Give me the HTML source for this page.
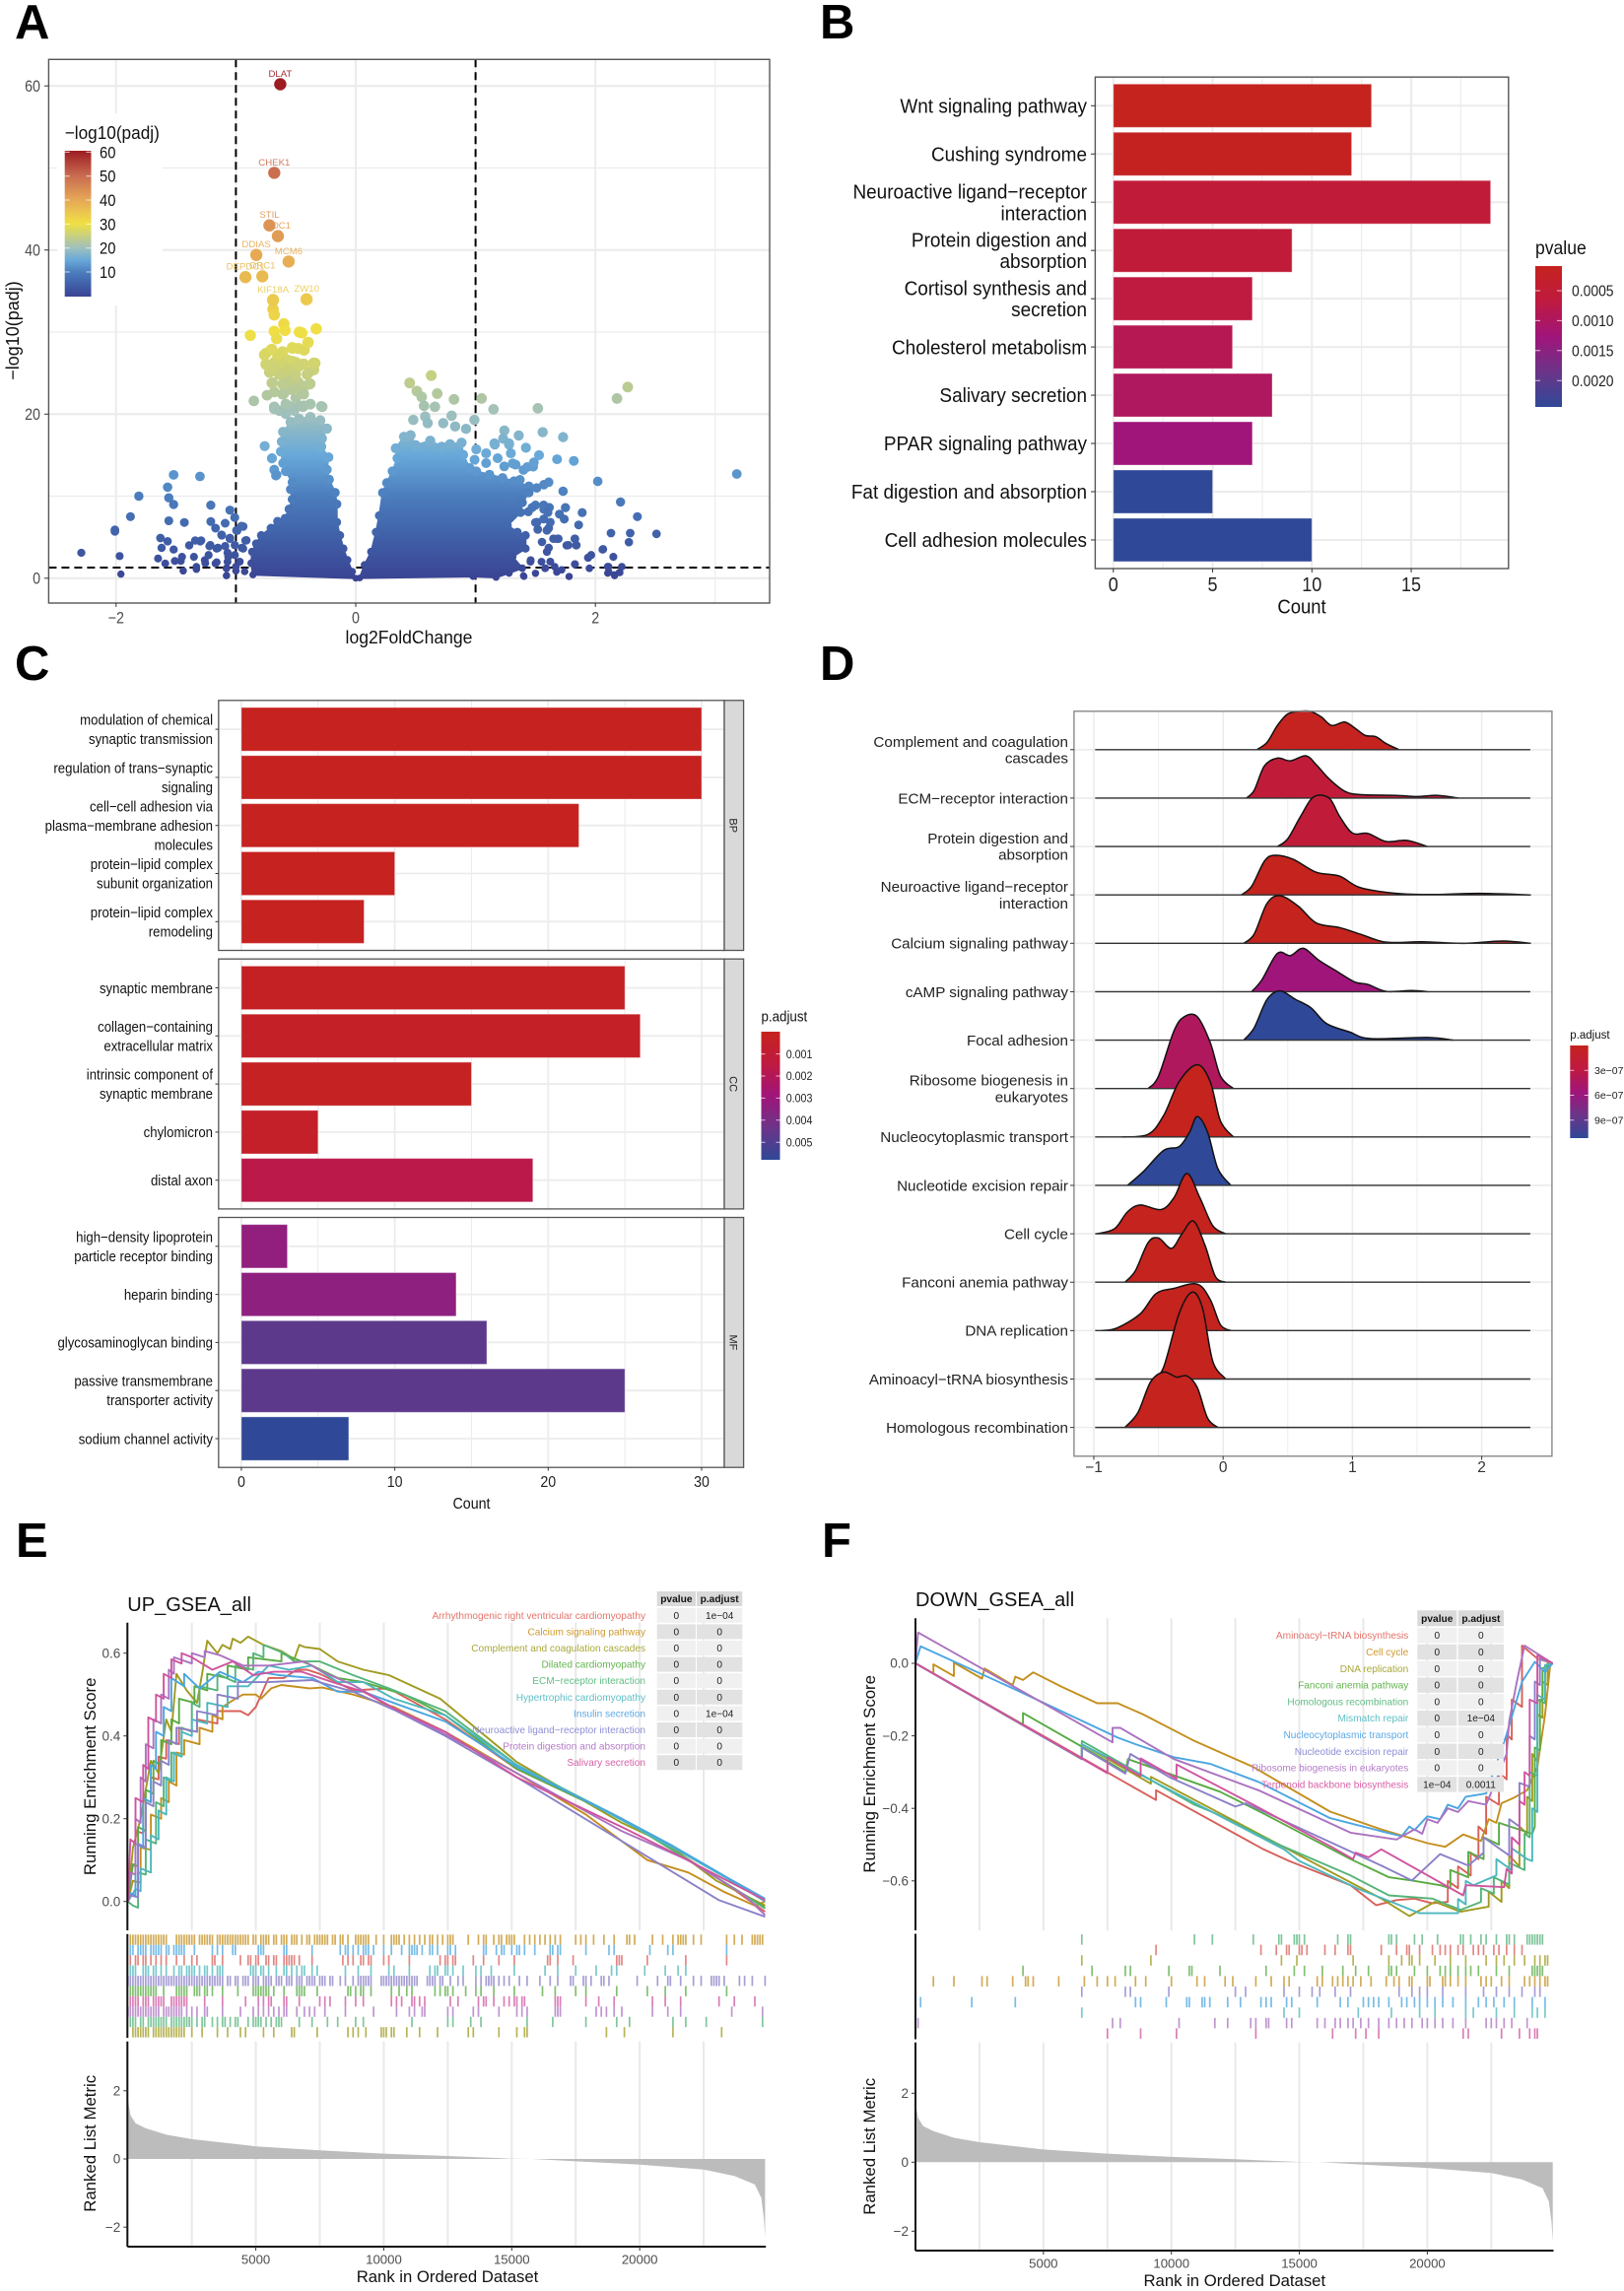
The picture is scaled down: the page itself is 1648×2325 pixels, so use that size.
<!DOCTYPE html>
<html lang="en">
<head>
<meta charset="utf-8">
<title>Multi-panel transcriptomics figure</title>
<style>
html,body{margin:0;padding:0;background:#fff}
svg{display:block;font-family:"Liberation Sans",Arial,sans-serif}
</style>
</head>
<body>
<svg id="figure" xmlns="http://www.w3.org/2000/svg" width="1648" height="2325" viewBox="0 0 1648 2325">
<defs id="defs"></defs>
<rect x="0" y="0" width="1648" height="2325" fill="#fff"/>

<g>
  <text x="15" y="39" font-size="49" font-weight="bold" fill="#000">A</text>
  <g id="a-grid"></g>
  <g id="a-marks"></g>
  <rect x="49.4" y="60.3" width="731.6" height="551.7" fill="none" stroke="#555" stroke-width="1.4"/>
  <g id="a-axes"></g>
  <text transform="translate(415,653) scale(.95,1)" text-anchor="middle" font-size="18.5" fill="#111">log2FoldChange</text>
  <text transform="translate(19,335.5) rotate(-90) scale(1,1)" text-anchor="middle" font-size="18" fill="#111">−log10(padj)</text>
  <rect x="58" y="115" width="107" height="195" fill="#fff"/>
  <text transform="translate(65.7,141) scale(.93,1)" font-size="18.5" fill="#111">−log10(padj)</text>
  <g id="a-legend"></g>
</g>

<g>
  <text x="832" y="39" font-size="49" font-weight="bold" fill="#000">B</text>
  <g id="b-grid"></g>
  <g id="b-marks"></g>
  <rect x="1111.4" y="78.2" width="419.4" height="498.8" fill="none" stroke="#555" stroke-width="1.4"/>
  <g id="b-axes"></g>
  <text transform="translate(1321,622.5) scale(.9,1)" text-anchor="middle" font-size="20.5" fill="#111">Count</text>
  <text transform="translate(1558,258) scale(.9,1)" font-size="19.5" fill="#111">pvalue</text>
  <g id="b-legend"></g>
</g>

<g>
  <text x="15" y="690" font-size="49" font-weight="bold" fill="#000">C</text>
  <g id="c-grid"></g>
  <g id="c-marks"></g>
  <g id="c-axes"></g>
  <text transform="translate(478.5,1531) scale(.89,1)" text-anchor="middle" font-size="16" fill="#111">Count</text>
  <text transform="translate(772.5,1036.5) scale(.89,1)" font-size="15" fill="#111">p.adjust</text>
  <g id="c-legend"></g>
</g>

<g>
  <text x="832" y="690" font-size="49" font-weight="bold" fill="#000">D</text>
  <g id="d-grid"></g>
  <g id="d-marks"></g>
  <rect x="1089.9" y="721.8" width="485" height="756" fill="none" stroke="#888" stroke-width="1.4"/>
  <g id="d-axes"></g>
  <text x="1593.3" y="1054" font-size="11.5" fill="#111">p.adjust</text>
  <g id="d-legend"></g>
</g>

<g>
  <text x="16" y="1580" font-size="49" font-weight="bold" fill="#000">E</text>
  <text x="129.3" y="1635" font-size="20" fill="#111">UP_GSEA_all</text>
  <g id="e-grid"></g>
  <g id="e-lines"></g>
  <g id="e-rug"></g>
  <g id="e-metric"></g>
  <g id="e-axes"></g>
  <g id="e-table"></g>
  <text transform="translate(97,1802.8) rotate(-90)" text-anchor="middle" font-size="16.8" fill="#111">Running Enrichment Score</text>
  <text transform="translate(97,2175.3) rotate(-90)" text-anchor="middle" font-size="16.8" fill="#111">Ranked List Metric</text>
  <text x="454" y="2316" text-anchor="middle" font-size="16.7" fill="#111">Rank in Ordered Dataset</text>
</g>

<g>
  <text x="834" y="1580" font-size="49" font-weight="bold" fill="#000">F</text>
  <text x="929" y="1630" font-size="20" fill="#111">DOWN_GSEA_all</text>
  <g id="f-grid"></g>
  <g id="f-lines"></g>
  <g id="f-rug"></g>
  <g id="f-metric"></g>
  <g id="f-axes"></g>
  <g id="f-table"></g>
  <text transform="translate(888,1800.3) rotate(-90)" text-anchor="middle" font-size="16.8" fill="#111">Running Enrichment Score</text>
  <text transform="translate(888,2178.3) rotate(-90)" text-anchor="middle" font-size="16.8" fill="#111">Ranked List Metric</text>
  <text x="1252.8" y="2320" text-anchor="middle" font-size="16.7" fill="#111">Rank in Ordered Dataset</text>
</g>
</svg>

<script>
/* ---------- Panel A data (log2FoldChange, -log10 padj) ---------- */
const labelledGenes = ['DLAT','CHEK1','STIL','CDC1','DDIAS','MCM6','DEPDC1','ORC1','KIF18A','ZW10'];
const labelledFC = [-.63,-.68,-.72,-.65,-.83,-.56,-.92,-.78,-.69,-.41];
const labelledP = [60.2,49.4,43,41.7,39.4,38.6,36.7,36.8,33.9,34];
const volcanoUpperDown = [[-.69,32.8],[-.68,32.1],[-.88,29.6],[-.68,30.1],[-.66,29.2],[-.6,31],[-.59,30.2],[-.47,30],[-.45,29.9],[-.33,30.4],[-.4,28.7],[-.75,27.4],[-.7,27.9],[-.61,27.6],[-.53,28.1],[-.48,28],[-.43,27.8],[-.75,26.1],[-.68,26.3],[-.57,26.6],[-.5,26.3],[-.44,26.1],[-.34,26.2],[-.35,25.4],[-.72,25.1],[-.64,25.1],[-.53,25.3],[-.39,25.1],[-.7,23.8],[-.59,24],[-.48,23.9],[-.38,23.7],[-.74,22.3],[-.68,22.7],[-.55,23],[-.44,22.7],[-.85,21.6],[-.68,20.9],[-.61,20.4],[-.54,20.9],[-.44,20.9],[-.38,21.2],[-.28,20.9],[-.62,26.5],[-.58,25],[-.52,24.5],[-.6,22.5],[-.5,22],[-.47,21],[-.56,21],[-.76,16.1],[-.7,14.6],[-.68,13.2],[-.66,12.6],[-.68,20.63],[-.639,20.43],[-.584,20.03],[-.515,20.43],[-.433,21.03],[-.378,21.23],[-.288,20.95],[-.584,21.23],[-.611,22.43],[-.502,23.03],[-.392,23.63],[-.447,23.43],[-.556,24.03],[-.694,23.83],[-.639,24.83],[-.502,24.83],[-.406,24.83],[-.351,26.23],[-.433,26.11],[-.529,26.43],[-.625,26.23],[-.748,26.03],[-.652,27.23],[-.529,28.03],[-.707,27.83],[-.762,27.23],[-.433,27.83],[-.397,28.75],[-.68,25.63],[-.57,25.43],[-.474,25.83],[-.611,23.63],[-.433,22.43],[-.699,14.63],[-.68,13.23],[-.666,12.5]];
const volcanoUp = [[.63,24.7],[.45,23.8],[.51,22.8],[.55,22.1],[.68,22.5],[.82,21.8],[1.05,21.9],[.57,21],[.66,20.9],[1.15,20.6],[1.52,20.7],[2.18,21.9],[2.27,23.3],[.48,19.3],[.58,19.7],[.6,18.9],[.73,18.9],[.8,19.8],[.83,18.5],[.92,18.2],[.99,19.3],[1.24,18],[1.36,17.4],[1.56,17.8],[1.73,17.2],[1.23,17],[1.16,16.3],[1.28,16.3],[1.42,15.9],[1.53,15],[1.68,14.5],[1.82,14.3],[2.02,11.8],[3.18,12.7],[1.73,10.6],[1.61,11.7],[1.57,11.4],[1.51,11],[2.21,9.3],[2.35,7.5],[1.86,6.5],[1.89,8],[1.75,8.6],[1.7,7.8],[1.74,7.2],[2.13,5.5],[2.29,5.5],[2.51,5.4],[2.28,4.4],[2.06,3.5],[2.15,2.6],[1.94,2.5],[1.83,1.7],[1.95,1.2],[2.22,1.4],[2.11,1.4],[2.11,.8],[2.2,.7],[2.16,.3],[1.78,.2],[1.68,.8],[1.58,1.2],[1.4,.3],[1.5,.6],[1.66,1.4],[1.55,2],[1.46,2.2],[1.61,3.7],[1.83,4.8],[1.76,4],[1.84,4],[1.68,4.8],[1.61,6.1],[1.5,6.8],[1.57,8.4],[1.44,8.1],[1.5,8.9],[1.4,13.2],[1.48,13.6],[1.31,14],[1.44,10.7],[1.37,12]];
const volcanoRightExtra = [[1.006,15.71],[1.088,15.23],[1.157,16.43],[1.28,16.43],[1.294,15.23],[1.184,14.63],[1.239,13.63],[1.335,13.83],[1.431,13.55],[1.486,14.11],[.992,14.43],[1.088,14.03],[1.472,8.62],[1.568,8.9],[1.615,8.62],[1.604,8.02],[1.513,6.82],[1.568,7.22],[1.623,6.82],[1.519,5.94],[1.595,5.82],[1.691,4.82],[1.65,4.82],[1.554,4.42],[1.595,3.22],[1.623,2.02],[1.458,2.02],[1.582,1.22],[1.678,.74],[1.719,1.02],[1.828,1.7],[1.774,4.02],[1.828,4.82],[1.842,4.02],[1.938,2.5],[1.965,2.82],[2.064,3.54],[2.103,1.42],[2.103,.62],[2.157,.42],[2.204,.7],[1.782,.22],[1.404,.22]];
const volcanoLeftTail = [[-1.52,12.6],[-1.3,12.4],[-1.57,11.1],[-1.81,10],[-1.56,9.8],[-1.52,9],[-1.21,8.9],[-1.05,8.3],[-1.88,7.5],[-1.01,7.4],[-1.56,7],[-1.43,6.8],[-1.21,6.9],[-1.09,6.7],[-.94,6.3],[-2.01,5.9],[-2.01,5.7],[-.99,5.8],[-1.17,6.1],[-1.63,4.9],[-1.12,5.3],[-1.05,4.9],[-1.34,4.6],[-1.29,4.6],[-1.57,4.5],[-.92,4.6],[-2.29,3.1],[-1.62,3.7],[-1.52,3.5],[-1.97,2.7],[-1.39,4],[-1.22,3.9],[-1.15,3.7],[-1.09,3.9],[-1.65,2.4],[-1.45,2.6],[-1.35,2.6],[-1.26,2.2],[-1.07,3.1],[-.95,3.7],[-1.59,1.8],[-1.51,2.1],[-1.46,2.1],[-1.33,1.4],[-1.17,1.8],[-1.07,2],[-1.96,.5],[-1.44,.9],[-1.33,1.1],[-1.08,1.2],[-1.08,.3],[-1,.9],[-1.297,4.5],[-1.214,4.02],[-1.16,3.62],[-1.118,5.22],[-1.05,4.82],[-.995,5.82],[-.954,6.34],[-.913,4.62],[-1.009,4.02],[-.94,3.62],[-1.009,2.82],[-1.064,2.62],[-1.228,2.82],[-1.16,1.94],[-1.256,1.82],[-1.077,1.22],[-1.077,.34],[-.968,2.02],[-.927,.82],[-1,1.42]];
const denseDownEnvelope = [[-.858,.42],[-.872,1.82],[-.864,3.22],[-.831,4.22],[-.789,5.22],[-.707,6.1],[-.652,6.94],[-.589,7.3],[-.556,8.42],[-.529,9.62],[-.543,10.82],[-.529,11.7],[-.584,13.03],[-.606,14.03],[-.625,15.43],[-.617,16.63],[-.606,17.83],[-.543,19.03],[-.474,19.43],[-.378,19.63],[-.296,19.23],[-.241,18.23],[-.282,17.03],[-.288,16.03],[-.228,14.75],[-.241,13.23],[-.222,12.03],[-.173,10.43],[-.159,9.03],[-.159,6.82],[-.132,5.22],[-.104,3.62],[-.069,2.22],[-.03,.82],[0,0]];
const denseUpEnvelope = [[.033,.02],[.074,1.62],[.129,3.22],[.17,5.62],[.197,7.62],[.225,10.42],[.26,11.62],[.307,13.03],[.348,14.63],[.334,15.83],[.403,17.23],[.458,17.43],[.499,16.23],[.622,16.75],[.718,16.03],[.787,16.35],[.883,16.51],[.896,15.03],[.951,13.43],[1.006,13.03],[1.116,12.63],[1.225,12.23],[1.321,11.83],[1.445,11.22],[1.445,10.42],[1.39,9.22],[1.376,8.02],[1.266,6.42],[1.349,5.62],[1.417,5.22],[1.417,3.62],[1.308,2.62],[1.39,1.22],[1.28,.62],[1.171,.1],[.979,.22]];
const volcanoXTicks = [-2,0,2];
const volcanoYTicks = [0,20,40,60];
const foldThresholds = [-1,1];
const padjThreshold = 1.3;
const volcanoLegendTicks = [60,50,40,30,20,10];
const volcanoColorValues = [0,5,10,15,20,25,30,35,40,50,60];
const volcanoColors = ['#3a4494','#4060a8','#4b7dbd','#68a9d9','#9fc0bd','#c8d07e','#efe043','#ebc450','#e5a656','#c86a4f','#9c1c22'];

/* ---------- Panel B data ---------- */
const keggTerms = ['Wnt signaling pathway','Cushing syndrome','Neuroactive ligand−receptor\ninteraction','Protein digestion and\nabsorption','Cortisol synthesis and\nsecretion','Cholesterol metabolism','Salivary secretion','PPAR signaling pathway','Fat digestion and absorption','Cell adhesion molecules'];
const keggCounts = [13,12,19,9,7,6,8,7,5,10];
const keggP = [.00009,.00014,.00055,.00055,.00067,.00085,.00097,.00125,.0024,.0024];
const keggXTicks = [0,5,10,15];
const keggLegendTicks = ['0.0005','0.0010','0.0015','0.0020'];

/* ---------- Panel C data ---------- */
const goFacets = ['BP','CC','MF'];
const goTerms = [
  ['modulation of chemical\nsynaptic transmission','regulation of trans−synaptic\nsignaling','cell−cell adhesion via\nplasma−membrane adhesion\nmolecules','protein−lipid complex\nsubunit organization','protein−lipid complex\nremodeling'],
  ['synaptic membrane','collagen−containing\nextracellular matrix','intrinsic component of\nsynaptic membrane','chylomicron','distal axon'],
  ['high−density lipoprotein\nparticle receptor binding','heparin binding','glycosaminoglycan binding','passive transmembrane\ntransporter activity','sodium channel activity']];
const goCountsBP = [30,30,22,10,8];
const goCountsCC = [25,26,15,5,19];
const goCountsMF = [3,14,16,25,7];
const goPadjBP = [.0001,.0001,.0001,.0001,.0001];
const goPadjCC = [.0003,.0004,.0002,.0005,.0017];
const goPadjMF = [.0033,.0034,.0047,.0047,.0058];
const goXTicks = [0,10,20,30];
const goLegendTicks = ['0.001','0.002','0.003','0.004','0.005'];

/* ---------- Panel D data (log2FC, density) ---------- */
const ridgeTerms = ['Complement and coagulation\ncascades','ECM−receptor interaction','Protein digestion and\nabsorption','Neuroactive ligand−receptor\ninteraction','Calcium signaling pathway','cAMP signaling pathway','Focal adhesion','Ribosome biogenesis in\neukaryotes','Nucleocytoplasmic transport','Nucleotide excision repair','Cell cycle','Fanconi anemia pathway','DNA replication','Aminoacyl−tRNA biosynthesis','Homologous recombination'];
const ridgePadj = [1e-8,2.2e-7,2.2e-7,0,0,5.6e-7,1.12e-6,4.2e-7,0,1.12e-6,0,0,0,0,0];
const ridgeComplement = [[.26,0],[.34,.19],[.42,.63],[.5,.93],[.6,1],[.68,.99],[.76,.85],[.84,.63],[.94,.72],[1.02,.56],[1.1,.37],[1.18,.34],[1.26,.16],[1.36,0]];
const ridgeECM = [[.18,0],[.24,.2],[.32,.84],[.42,1.04],[.52,.97],[.64,1.1],[.72,.87],[.82,.5],[.94,.18],[1.06,.09],[1.34,.07],[1.5,.04],[1.66,.07],[1.82,0]];
const ridgeProtein = [[.42,0],[.5,.2],[.6,.79],[.7,1.29],[.82,1.26],[.9,.79],[1,.35],[1.12,.34],[1.26,.13],[1.42,.16],[1.58,0]];
const ridgeNeuro = [[.14,0],[.22,.22],[.32,.88],[.4,1.03],[.54,.93],[.72,.59],[.9,.49],[1.06,.19],[1.34,.04],[1.62,.01],[1.98,.04],[2.38,0]];
const ridgeCalcium = [[.16,0],[.24,.24],[.34,1.04],[.44,1.24],[.58,.97],[.72,.53],[.9,.41],[1.06,.24],[1.26,.03],[1.54,.04],[1.86,0],[2.16,.06],[2.38,0]];
const ridgeCAMP = [[.22,0],[.3,.31],[.42,1],[.52,.94],[.62,1.13],[.74,.82],[.88,.53],[1.02,.25],[1.12,.19],[1.26,.01],[1.46,.03],[1.58,0]];
const ridgeFocal = [[.16,0],[.24,.32],[.34,1.06],[.44,1.28],[.56,1.06],[.68,.84],[.8,.43],[.98,.21],[1.14,.04],[1.58,.07],[1.78,0]];
const ridgeRibosome = [[-.58,0],[-.5,.32],[-.38,1.5],[-.3,1.87],[-.2,1.87],[-.1,1.2],[-.02,.32],[.08,0]];
const ridgeNucleocyto = [[-.78,0],[-.58,.07],[-.46,.56],[-.34,1.44],[-.2,1.88],[-.1,1.44],[-.02,.41],[.08,0]];
const ridgeNER = [[-.74,0],[-.62,.35],[-.46,.91],[-.34,1.01],[-.26,1.38],[-.2,1.79],[-.12,1.38],[-.04,.43],[.06,0]];
const ridgeCellCycle = [[-.98,0],[-.84,.13],[-.74,.57],[-.64,.75],[-.48,.63],[-.38,.94],[-.28,1.57],[-.18,.94],[-.08,.21],[.02,0]];
const ridgeFanconi = [[-.76,0],[-.68,.29],[-.58,1.03],[-.5,1.15],[-.4,.88],[-.32,1.25],[-.23,1.59],[-.14,.96],[-.06,.15],[.02,0]];
const ridgeDNA = [[-.94,0],[-.82,.07],[-.64,.44],[-.52,.96],[-.38,1.1],[-.2,1.21],[-.1,.81],[-.02,.15],[.06,0]];
const ridgeAminoacyl = [[-.54,0],[-.46,.31],[-.34,1.71],[-.24,2.26],[-.16,1.85],[-.08,.46],[.02,0]];
const ridgeHomologous = [[-.76,0],[-.66,.38],[-.56,1.19],[-.46,1.44],[-.36,1.31],[-.28,1.34],[-.2,1.04],[-.12,.24],[-.04,0]];
const ridgeXTicks = [-1,0,1,2];
const ridgeLegendTicks = ['3e−07','6e−07','9e−07'];

/* ---------- Panel E data (rank in hundreds, enrichment score) ---------- */
const upSets = ['Arrhythmogenic right ventricular cardiomyopathy','Calcium signaling pathway','Complement and coagulation cascades','Dilated cardiomyopathy','ECM−receptor interaction','Hypertrophic cardiomyopathy','Insulin secretion','Neuroactive ligand−receptor interaction','Protein digestion and absorption','Salivary secretion'];
const upPvalue = ['0','0','0','0','0','0','0','0','0','0'];
const upPadjust = ['1e−04','0','0','0','0','0','1e−04','0','0','0'];
const setLabelColors = ['#e5746b','#d09a2b','#a9a83a','#64b450','#62bd85','#5fbfc5','#5ba9e6','#8e8fd6','#b57cc8','#d860a6'];
const setLineColors = ['#d8605a','#c48f1e','#a09a20','#58ab42','#55b47a','#4db7bd','#4aa6e0','#8a80c8','#ab72c0','#cf549e'];
const upArr = [[0,0],[1,.09],[3,.085],[3,.17],[6,.165],[6,.25],[9,.24],[9,.3],[12,.295],[12,.35],[15,.345],[15,.39],[20,.38],[20,.42],[27,.41],[27,.44],[35,.43],[35,.46],[40,.46],[44,.46],[47,.45],[50,.47],[55,.54],[61,.54],[66,.56],[70,.56],[75,.55],[88,.51],[102,.515],[124,.44],[152,.32],[193,.2],[217,.11],[232,.05],[249,-.025]];
const upCalcium = [[0,0],[2,.05],[5,.045],[5,.13],[9,.125],[9,.21],[13,.2],[13,.25],[16,.24],[16,.29],[19,.28],[19,.36],[22,.355],[22,.39],[28,.38],[28,.42],[33,.41],[33,.45],[37,.44],[37,.47],[42,.49],[45,.5],[50,.5],[52,.49],[56,.515],[60,.523],[71,.515],[76,.517],[88,.5],[104,.47],[124,.41],[152,.31],[179,.21],[203,.1],[219,.07],[233,.023],[245,-.01],[249,0]];
const upComplement = [[0,0],[2,.13],[5,.2],[9,.34],[12,.31],[15,.44],[17,.41],[19,.55],[23,.51],[27,.48],[29,.55],[31,.63],[35,.6],[37,.62],[40,.61],[41,.635],[44,.625],[47,.64],[53,.62],[60,.605],[65,.585],[67,.62],[69,.615],[75,.61],[82,.58],[92,.56],[102,.547],[122,.49],[152,.337],[193,.19],[211,.138],[230,.05],[249,-.01]];
const upDilated = [[0,0],[2,.09],[4,.085],[4,.18],[7,.17],[7,.27],[10,.26],[10,.34],[13,.33],[13,.39],[17,.38],[17,.44],[20,.43],[20,.49],[26,.48],[26,.52],[31,.51],[31,.55],[39,.54],[39,.57],[47,.56],[47,.59],[60,.58],[60,.6],[72,.57],[82,.54],[92,.53],[108,.5],[124,.45],[152,.32],[193,.2],[233,.047],[249,-.015]];
const upECM = [[0,0],[2,-.01],[4,-.015],[4,.07],[7,.065],[7,.15],[11,.14],[11,.24],[14,.23],[14,.3],[17,.29],[17,.36],[21,.35],[21,.42],[25,.41],[25,.48],[28,.47],[28,.52],[35,.51],[35,.55],[42,.53],[42,.57],[49,.56],[49,.6],[53,.59],[53,.62],[61,.6],[65,.58],[75,.58],[88,.547],[102,.515],[124,.46],[152,.33],[193,.2],[233,.047],[249,-.017]];
const upHyper = [[0,0],[3,.03],[5,.025],[5,.08],[9,.07],[9,.16],[12,.15],[12,.22],[15,.21],[15,.3],[18,.29],[18,.36],[21,.35],[21,.41],[25,.4],[25,.44],[31,.43],[31,.48],[39,.47],[39,.52],[47,.52],[55,.57],[63,.56],[72,.57],[82,.53],[92,.53],[104,.49],[124,.45],[152,.33],[189,.21],[213,.13],[233,.06],[249,0]];
const upInsulin = [[0,0],[1,.02],[3,.015],[3,.14],[6,.13],[6,.25],[9,.24],[9,.33],[11,.32],[11,.41],[14,.4],[14,.47],[17,.46],[17,.54],[22,.52],[22,.55],[28,.515],[36,.555],[45,.53],[51,.555],[59,.547],[72,.54],[82,.507],[92,.507],[106,.475],[124,.435],[152,.325],[189,.213],[213,.134],[235,.055],[249,.007]];
const upNeuro = [[0,0],[1,.015],[4,.01],[4,.14],[7,.13],[7,.24],[10,.23],[10,.29],[13,.28],[13,.34],[16,.33],[16,.39],[19,.38],[19,.42],[27,.41],[27,.46],[35,.45],[35,.5],[43,.49],[43,.53],[55,.53],[72,.535],[88,.507],[104,.463],[124,.4],[152,.3],[193,.146],[231,.003],[249,-.037]];
const upProtein = [[0,0],[1,.07],[3,.065],[3,.2],[5,.19],[5,.3],[7,.29],[7,.38],[10,.37],[10,.44],[13,.43],[13,.5],[16,.49],[16,.56],[18,.55],[18,.59],[25,.575],[25,.6],[30,.59],[30,.605],[36,.595],[45,.57],[55,.57],[69,.58],[76,.555],[88,.523],[104,.467],[124,.404],[152,.31],[193,.17],[219,.1],[241,.015],[249,-.033]];
const upSalivary = [[0,0],[1,.15],[3,.14],[3,.25],[6,.24],[6,.33],[8,.32],[8,.445],[11,.435],[11,.5],[14,.49],[14,.55],[17,.54],[17,.585],[21,.575],[21,.6],[25,.59],[33,.56],[41,.58],[49,.547],[57,.555],[68,.555],[80,.53],[92,.507],[104,.467],[124,.41],[152,.3],[193,.18],[213,.118],[249,.003]];

const rugUpCalcium = [1,2,3,4,5,6,7,8,9,10,11,12,13,14,15,19,20,21,22,23,24,25,26,28,29,30,31,32,33,35,36,37,38,39,40,41,42,43,44,45,46,47,49,50,52,53,54,55,57,58,60,61,62,64,65,66,68,70,71,73,74,75,76,77,78,80,81,83,84,86,89,90,91,92,93,94,97,100,103,104,105,106,108,110,112,114,116,118,119,121,123,125,126,127,133,137,139,140,143,145,146,148,149,150,151,155,157,159,161,163,165,167,169,175,177,179,182,186,190,195,196,198,205,209,213,215,216,217,218,221,224,234,237,240,244,245,246,247,248];
const rugUpInsulin = [1,2,4,5,6,7,9,10,11,12,13,15,16,18,19,20,21,22,26,33,35,37,41,42,51,52,53,61,62,72,83,85,86,88,90,92,93,94,96,100,103,107,110,111,112,113,115,118,119,121,125,126,128,139,140,144,146,147,150,152,153,155,159,165,166,168,169,179,188,190,204,211,213,234];
const rugUpArr = [1,3,4,6,7,9,11,13,15,19,22,25,27,33,34,37,44,47,48,50,51,54,55,57,58,61,62,63,64,65,67,72,84,86,88,91,92,94,95,100,102,110,122,124,125,127,128,135,139,145,151,164,165,168,174,191,192,193,203,218,234];
const rugUpHyper = [1,2,3,6,7,8,10,11,13,15,18,20,21,23,24,25,26,28,30,31,33,35,36,37,48,49,50,52,53,55,58,61,62,64,66,68,69,72,74,85,90,95,102,104,110,118,120,121,124,125,127,131,136,138,142,151,163,168,175,183,189,191,202,210,215,218];
const rugUpNeuro = [0,1,2,3,4,5,6,7,8,9,10,11,12,13,14,15,16,17,18,19,20,21,22,23,24,25,26,27,28,29,30,31,32,33,34,35,36,37,39,40,42,43,45,46,47,49,50,51,53,54,55,56,58,59,60,62,63,64,66,67,68,70,71,72,73,75,76,77,79,80,83,85,88,90,91,92,93,94,95,99,100,101,102,103,104,105,106,107,108,109,110,111,112,113,117,118,119,120,122,123,126,129,131,136,138,140,141,142,143,145,147,149,153,156,161,165,168,173,174,178,179,181,185,186,188,199,207,211,212,216,221,224,228,229,230,231,233,239,241,244,249];
const rugUpDilated = [1,2,3,4,5,6,7,8,9,10,11,14,19,20,21,22,23,26,27,28,30,31,33,37,43,49,50,51,52,53,54,55,57,61,66,67,68,69,74,86,87,89,91,92,95,103,106,109,111,120,122,124,125,127,132,136,138,143,151,162,167,175,179,191,203,210,218,234];
const rugUpSalivary = [1,2,3,4,6,7,8,10,11,12,13,14,17,18,19,20,21,22,23,30,37,46,51,53,55,56,61,62,67,75,77,79,85,89,92,103,105,107,111,112,114,116,126,129,137,139,140,143,147,149,151,152,154,155,167,168,169,179,184,190,205,210,216,231,237,245];
const rugUpProtein = [0,1,2,3,4,5,6,7,8,9,10,11,12,14,15,16,17,18,19,20,21,23,25,27,30,31,37,44,49,51,53,55,57,59,61,62,66,69,71,73,77,85,96,105,110,112,115,116,125,127,135,137,145,152,154,156,167,168,169,183,185,187,190,193,205,211,216,236,248];
const rugUpECM = [1,2,3,5,6,8,9,10,11,12,13,14,15,17,18,19,20,21,22,23,24,25,27,29,30,33,35,37,38,40,42,43,47,49,50,51,52,54,56,58,59,60,67,72,78,82,89,92,111,125,127,134,138,156,166,179,191,196,213,218,226,248];
const rugUpComplement = [2,3,4,5,6,7,8,10,11,12,13,14,15,16,17,18,19,20,21,22,25,29,35,39,44,46,53,57,64,65,74,86,88,90,93,99,100,101,103,104,109,114,121,133,135,145,152,155,156,187,194,213,232];

/* ---------- Panel F data (rank in hundreds, enrichment score) ---------- */
const downSets = ['Aminoacyl−tRNA biosynthesis','Cell cycle','DNA replication','Fanconi anemia pathway','Homologous recombination','Mismatch repair','Nucleocytoplasmic transport','Nucleotide excision repair','Ribosome biogenesis in eukaryotes','Terpenoid backbone biosynthesis'];
const downPvalue = ['0','0','0','0','0','0','0','0','0','1e−04'];
const downPadjust = ['0','0','0','0','0','1e−04','0','0','0','0.0011'];
const downAminoacyl = [[0,0],[94,-.377],[94,-.35],[136,-.513],[146,-.545],[170,-.612],[180,-.667],[188,-.653],[195,-.649],[202,-.662],[208,-.658],[208,-.6],[212,-.62],[212,-.56],[217,-.585],[217,-.522],[220,-.54],[220,-.45],[223,-.47],[223,-.368],[228,-.39],[228,-.3],[231,-.32],[231,-.196],[233,-.21],[233,-.1],[237,-.12],[237,.049],[243,.013],[249,0]];
const downCellCycle = [[0,0],[7,-.028],[7,-.003],[15,-.035],[15,.002],[26,-.042],[27,-.014],[38,-.06],[39,-.037],[42,-.046],[46,-.025],[57,-.064],[71,-.11],[79,-.11],[89,-.141],[109,-.214],[132,-.286],[162,-.409],[182,-.458],[200,-.496],[207,-.506],[214,-.472],[221,-.49],[224,-.43],[227,-.44],[229,-.386],[234,-.37],[239,-.35],[243,-.286],[246,-.141],[248,-.005],[249,0]];
const downDNA = [[0,0],[65,-.264],[65,-.223],[92,-.332],[92,-.313],[182,-.649],[193,-.697],[203,-.658],[213,-.685],[224,-.671],[224,-.63],[229,-.658],[229,-.6],[232,-.62],[232,-.53],[236,-.56],[236,-.45],[239,-.47],[239,-.368],[241,-.38],[241,-.25],[243,-.27],[243,-.141],[245,-.15],[245,-.05],[247,-.06],[247,.004],[249,0]];
const downFanconi = [[0,0],[42,-.169],[42,-.137],[69,-.246],[82,-.3],[83,-.264],[119,-.354],[137,-.418],[170,-.54],[185,-.59],[194,-.599],[205,-.612],[209,-.62],[209,-.57],[216,-.59],[216,-.52],[222,-.54],[222,-.48],[228,-.5],[228,-.44],[241,-.47],[242,-.45],[242,-.232],[244,-.24],[244,-.1],[245,-.1],[245,-.014],[249,0]];
const downHomologous = [[0,0],[65,-.264],[65,-.214],[109,-.39],[117,-.413],[142,-.5],[170,-.585],[185,-.64],[202,-.649],[213,-.68],[221,-.658],[221,-.62],[226,-.635],[226,-.59],[232,-.61],[232,-.55],[238,-.57],[238,-.47],[240,-.48],[240,-.3],[243,-.31],[243,-.1],[246,-.11],[246,-.014],[249,0]];
const downMismatch = [[0,0],[65,-.264],[65,-.223],[144,-.513],[150,-.545],[173,-.622],[186,-.658],[197,-.689],[212,-.689],[212,-.65],[215,-.665],[215,-.6],[218,-.612],[227,-.585],[227,-.54],[233,-.57],[233,-.51],[239,-.54],[241,-.545],[241,-.4],[243,-.41],[243,-.087],[246,-.1],[246,-.005],[249,0]];
const downNucleocyto = [[0,0],[2,.047],[38,-.069],[79,-.205],[86,-.223],[101,-.259],[115,-.277],[134,-.327],[162,-.427],[182,-.463],[190,-.477],[193,-.45],[195,-.46],[200,-.422],[205,-.43],[208,-.39],[212,-.4],[215,-.368],[223,-.359],[231,-.196],[237,-.051],[242,.004],[246,-.024],[249,0]];
const downNER = [[0,0],[65,-.264],[65,-.232],[82,-.304],[84,-.25],[99,-.313],[125,-.395],[129,-.386],[182,-.558],[194,-.599],[205,-.526],[216,-.558],[222,-.522],[222,-.48],[232,-.53],[232,-.43],[236,-.45],[236,-.33],[240,-.34],[240,-.2],[242,-.21],[242,-.05],[244,-.06],[244,.013],[249,0]];
const downRibosome = [[0,0],[1,.085],[77,-.218],[77,-.178],[80,-.178],[101,-.264],[134,-.35],[170,-.467],[188,-.486],[195,-.458],[198,-.47],[200,-.43],[204,-.44],[208,-.4],[212,-.41],[216,-.38],[223,-.39],[231,-.25],[232,-.16],[235,-.05],[238,.049],[249,0]];
const downTerpenoid = [[0,0],[75,-.303],[75,-.259],[88,-.311],[88,-.262],[102,-.318],[102,-.279],[132,-.39],[163,-.508],[171,-.54],[172,-.522],[177,-.535],[182,-.513],[214,-.64],[215,-.612],[230,-.617],[231,-.567],[233,-.58],[233,-.48],[236,-.5],[236,-.38],[238,-.39],[238,-.3],[240,-.31],[240,-.1],[243,-.11],[243,.022],[249,0]];

const rugDownHomologous = [65,109,116,132,142,143,148,149,150,152,165,169,170,185,186,188,195,198,204,213,214,217,221,223,227,231,232,234,239,240,241,242,243,244,245];
const rugDownAminoacyl = [94,135,141,145,146,150,151,153,160,164,169,170,182,188,192,193,197,202,205,207,209,212,214,218,220,222,226,228,231,234,237];
const rugDownDNA = [65,92,143,149,171,185,190,193,194,197,203,209,215,223,227,230,234,238,242,244,246,247];
const rugDownFanconi = [42,69,82,84,99,107,108,119,137,148,152,159,167,172,177,185,186,188,195,200,205,207,209,212,215,217,220,227,232,241,242,243,244,245];
const rugDownCellCycle = [7,15,26,28,38,43,44,46,56,66,71,75,78,86,90,100,110,113,121,124,133,139,144,146,157,159,163,165,167,169,171,174,178,184,187,189,193,194,200,201,206,207,209,212,215,221,223,225,229,232,238,240,242,244,246,247];
const rugDownNER = [65,82,84,99,125,129,144,150,155,158,164,170,189,194,197,200,206,215,222,227,232,237,242,244];
const rugDownNucleocyto = [2,22,39,86,88,98,106,107,112,113,115,122,127,135,137,139,145,147,157,166,169,175,177,179,181,185,190,192,195,197,200,203,206,210,215,220,223,226,230,234,241,246];
const rugDownMismatch = [65,144,150,173,186,197,203,215,218,227,234,241,243,246];
const rugDownRibosome = [1,77,80,103,117,122,131,133,137,138,145,147,157,160,164,166,169,171,174,177,181,185,188,191,194,198,200,203,206,210,215,223,225,227,230,233,239];
const rugDownTerpenoid = [75,88,102,133,163,172,176,181,214,216,229,236,240,242,243];

/* Ranked list metric shared by both GSEA panels */
const metricRanks = [0,1,3,7,15,25,50,75,100,125,150,158,175,200,225,237,245,247.5,248.5,249];
const metricValues = [1.75,1.29,1.05,.9,.71,.58,.37,.25,.155,.087,.01,0,-.07,-.165,-.31,-.5,-.75,-1.14,-1.72,-2.3];
const rankTicks = [5000,10000,15000,20000];
const rankGrid = [2500,5000,7500,10000,12500,15000,17500,20000,22500];
const upEsTicks = [0,.2,.4,.6];
const downEsTicks = [0,-.2,-.4,-.6];
const metricTicks = [2,0,-2];

/* Heat scale for adjusted p-value fills */
const heatOffsets = [0,.25,.5,.75,1];
const heatColors = ['#c5231e','#bf1a40','#a0157a','#6c3488','#2f4897'];

/* ---------- helpers ---------- */
const NS = 'http://www.w3.org/2000/svg';
const $ = id => document.getElementById(id);
function mk(tag, attrs, parent){
  const n = document.createElementNS(NS, tag);
  for(const k in attrs) n.setAttribute(k, attrs[k]);
  if(parent) parent.appendChild(n);
  return n;
}
function label(parent, x, y, str, size, anchor, fill, sx){
  const t = mk('text',{transform:'translate('+x+','+y+') scale('+(sx||1)+',1)','text-anchor':anchor||'start','font-size':size,fill:fill||'#111'},parent);
  const lines = String(str).split('\n');
  const lh = label.lh || size*1.2;
  lines.forEach((line,i)=>{
    const s = mk('tspan',{x:0,y:((i-(lines.length-1)/2)*lh+.35*size).toFixed(2)},t);
    s.textContent = line;
  });
  return t;
}
const slug = s => String(s).toLowerCase().replace(/[^a-z0-9]+/g,'-').replace(/^-|-$/g,'');
const hex = h => [parseInt(h.slice(1,3),16),parseInt(h.slice(3,5),16),parseInt(h.slice(5,7),16)];
function lerpScale(v, xs, cs){
  if(v<=xs[0]) return cs[0];
  for(let i=1;i<xs.length;i++){
    if(v<=xs[i]){
      const f=(v-xs[i-1])/(xs[i]-xs[i-1]), a=hex(cs[i-1]), b=hex(cs[i]);
      return 'rgb('+a.map((c,k)=>Math.round(c+(b[k]-c)*f)).join(',')+')';
    }
  }
  return cs[cs.length-1];
}
const heat = t => lerpScale(t, heatOffsets, heatColors);
const fmt = v => String(v).replace('-','−');
function gradient(id, x1,y1,x2,y2, offsets, colors, user){
  const g = mk('linearGradient',{id:id,x1:x1,y1:y1,x2:x2,y2:y2},$('defs'));
  if(user) g.setAttribute('gradientUnits','userSpaceOnUse');
  offsets.forEach((o,i)=>mk('stop',{offset:o,'stop-color':colors[i]},g));
}
function smooth(pts){
  let d='M'+pts[0][0].toFixed(2)+' '+pts[0][1].toFixed(2);
  for(let i=0;i<pts.length-1;i++){
    const p0=pts[Math.max(i-1,0)],p1=pts[i],p2=pts[i+1],p3=pts[Math.min(i+2,pts.length-1)];
    const c1=[p1[0]+(p2[0]-p0[0])/6,p1[1]+(p2[1]-p0[1])/6];
    const c2=[p2[0]-(p3[0]-p1[0])/6,p2[1]-(p3[1]-p1[1])/6];
    d+=' C'+c1[0].toFixed(2)+' '+c1[1].toFixed(2)+' '+c2[0].toFixed(2)+' '+c2[1].toFixed(2)+' '+p2[0].toFixed(2)+' '+p2[1].toFixed(2);
  }
  return d;
}

/* ---------- shared gradients ---------- */
gradient('heat-vertical',0,0,0,1,heatOffsets,heatColors);

/* ---------- Panel A ---------- */
const aX = v => 361 + v*121.6;
const aY = v => 586.8 - v*8.327;
const aR = v => 3.4 + 3.3*Math.sqrt(Math.max(v,0)/60);
const volcanoColor = v => lerpScale(v, volcanoColorValues, volcanoColors);
gradient('volcano-mass',0,aY(0),0,aY(60),volcanoColorValues.map(v=>v/60),volcanoColors,true);
gradient('volcano-bar',0,1,0,0,volcanoColorValues.map(v=>v/60),volcanoColors);

[-2,-1,0,1,2,3].forEach(v=>{
  const l = mk('line',{x1:aX(v),x2:aX(v),y1:60.3,y2:612,stroke:'#ececec','stroke-width':Number.isInteger(v/2)?2:1.2},$('a-grid'));
  
  
});
[0,10,20,30,40,50,60].forEach(v=>{
  const l = mk('line',{x1:49.4,x2:781,y1:aY(v),y2:aY(v),stroke:'#ececec','stroke-width':v%20===0?2.2:1.2},$('a-grid'));
  
  
});
foldThresholds.forEach(v=>{
  const l = mk('line',{x1:aX(v),x2:aX(v),y1:60.3,y2:612,stroke:'#000','stroke-width':2,'stroke-dasharray':'8 5'},$('a-grid'));
  
  
});
{
  const l = mk('line',{x1:49.4,x2:781,y1:aY(padjThreshold),y2:aY(padjThreshold),stroke:'#000','stroke-width':2,'stroke-dasharray':'8 5'},$('a-grid'));
  
  
}
[['dense-down',denseDownEnvelope],['dense-up',denseUpEnvelope]].forEach(([name,env])=>{
  const p = mk('polygon',{points:env.map(q=>aX(q[0]).toFixed(1)+','+aY(q[1]).toFixed(1)).join(' '),fill:'url(#volcano-mass)',stroke:'url(#volcano-mass)','stroke-width':2,'stroke-linejoin':'round'},$('a-marks'));
  
  
});
labelledGenes.forEach((g,i)=>{
  const t = label($('a-marks'),aX(labelledFC[i]),aY(labelledP[i])-11,g,9.6,'middle',volcanoColor(labelledP[i]));
  t.setAttribute('opacity','.9');
  
  
});
volcanoUpperDown.concat(volcanoUp,volcanoRightExtra,volcanoLeftTail,denseDownEnvelope,denseUpEnvelope).forEach(q=>{
  const c = mk('circle',{cx:aX(q[0]).toFixed(1),cy:aY(q[1]).toFixed(1),r:aR(q[1]).toFixed(2),fill:volcanoColor(q[1])},$('a-marks'));
  
  
});
labelledGenes.forEach((g,i)=>{
  const c = mk('circle',{cx:aX(labelledFC[i]).toFixed(1),cy:aY(labelledP[i]).toFixed(1),r:6.2,fill:volcanoColor(labelledP[i])},$('a-marks'));
  
  
});
volcanoXTicks.forEach(v=>{
  const t = label($('a-axes'),aX(v),626.5,fmt(v),16.4,'middle','#4d4d4d',.87);
  
  
  const k = mk('line',{x1:aX(v),x2:aX(v),y1:612,y2:616,stroke:'#333'},$('a-axes'));
  
  
});
volcanoYTicks.forEach(v=>{
  const t = label($('a-axes'),41,aY(v),fmt(v),16.4,'end','#4d4d4d',.87);
  
  
  const k = mk('line',{x1:45,x2:49.4,y1:aY(v),y2:aY(v),stroke:'#333'},$('a-axes'));
  
  
});
{
  const r = mk('rect',{x:65.7,y:153,width:26.8,height:148,fill:'url(#volcano-bar)'},$('a-legend'));
  
  
}
const aLegendY = v => 300.4 - v*2.434;
volcanoLegendTicks.forEach(v=>{
  const t = label($('a-legend'),101,aLegendY(v),v,17,'start','#111',.87);
  
  
  const k = mk('path',{d:'M65.7 '+aLegendY(v)+'h5M92.5 '+aLegendY(v)+'h-5',stroke:'#fff','stroke-opacity':.7},$('a-legend'));
  
  
});

/* ---------- Panel B ---------- */
const bX = v => 1129.8 + v*20.15;
const bY = i => 107.3 + i*48.96;
[2.5,5,7.5,10,12.5,15,17.5,0].forEach(v=>{
  const l = mk('line',{x1:bX(v),x2:bX(v),y1:78.2,y2:577,stroke:'#ececec','stroke-width':v%5===0?2:1.1},$('b-grid'));
  
  
});
keggTerms.forEach((term,i)=>{
  const g = mk('line',{x1:1111.4,x2:1530.8,y1:bY(i),y2:bY(i),stroke:'#ececec','stroke-width':2},$('b-grid'));
  
  
  const r = mk('rect',{x:bX(0),y:bY(i)-22,width:bX(keggCounts[i])-bX(0),height:44,fill:heat((keggP[i]-.00009)/.00231),stroke:'#fff','stroke-opacity':.35},$('b-marks'));
  
  
  label.lh = 21.8;
  const t = label($('b-axes'),1103,bY(i),term,20.5,'end','#111',.925);
  label.lh = 0;
  
  
  const k = mk('line',{x1:1107,x2:1111.4,y1:bY(i),y2:bY(i),stroke:'#333'},$('b-axes'));
  
  
});
keggXTicks.forEach(v=>{
  const t = label($('b-axes'),bX(v),593,v,20.5,'middle','#222',.88);
  
  
  const k = mk('line',{x1:bX(v),x2:bX(v),y1:577,y2:581,stroke:'#333'},$('b-axes'));
  
  
});
{
  const r = mk('rect',{x:1558,y:270,width:27,height:143,fill:'url(#heat-vertical)'},$('b-legend'));
  
  
}
keggLegendTicks.forEach((s,i)=>{
  const y = 295 + i*30.4;
  const t = label($('b-legend'),1595,y,s,16,'start','#222',.87);
  
  
  const k = mk('path',{d:'M1558 '+y+'h5M1585 '+y+'h-5',stroke:'#fff','stroke-opacity':.7},$('b-legend'));
  
  
});

/* ---------- Panel C ---------- */
const cX = v => 244.9 + v*15.57;
const facetTops = [710.8,973.2,1235.5];
const cY = (f,i) => facetTops[f] + 29.3 + i*48.8;
const goCounts = [goCountsBP,goCountsCC,goCountsMF];
const goPadj = [goPadjBP,goPadjCC,goPadjMF];
goFacets.forEach((facet,f)=>{
  const top = facetTops[f];
  [0,5,10,15,20,25,30].forEach(v=>{
    const l = mk('line',{x1:cX(v),x2:cX(v),y1:top,y2:top+253.7,stroke:'#ececec','stroke-width':v%10===0?1.8:1},$('c-grid'));
    
    
  });
  goTerms[f].forEach((term,i)=>{
    const g = mk('line',{x1:221.8,x2:735,y1:cY(f,i),y2:cY(f,i),stroke:'#ececec','stroke-width':1.8},$('c-grid'));
    
    
    const r = mk('rect',{x:cX(0),y:cY(f,i)-22.1,width:cX(goCounts[f][i])-cX(0),height:44.2,fill:heat(goPadj[f][i]/.0058),stroke:'#fff','stroke-opacity':.35},$('c-marks'));
    
    
    label.lh = 19.5;
    const t = label($('c-axes'),216,cY(f,i),term,15,'end','#111',.88);
    label.lh = 0;
    
    
    const k = mk('line',{x1:218.5,x2:221.8,y1:cY(f,i),y2:cY(f,i),stroke:'#333'},$('c-axes'));
    
    
  });
  const frame = mk('rect',{x:221.8,y:top,width:513.2,height:253.7,fill:'none',stroke:'#555','stroke-width':1.3},$('c-axes'));
  
  
  const strip = mk('rect',{x:735,y:top,width:19.6,height:253.7,fill:'#d9d9d9',stroke:'#555','stroke-width':1.3},$('c-axes'));
  
  
  const s = mk('text',{transform:'translate(740.5,'+(top+126.9)+') rotate(90)','text-anchor':'middle','font-size':11,fill:'#222'},$('c-axes'));
  s.textContent = facet;
  
  
});
goXTicks.forEach(v=>{
  const t = label($('c-axes'),cX(v),1503.6,v,16,'middle','#222',.89);
  
  
  const k = mk('line',{x1:cX(v),x2:cX(v),y1:1489.2,y2:1492.5,stroke:'#333'},$('c-axes'));
  
  
});
{
  const r = mk('rect',{x:772.5,y:1047,width:19,height:130,fill:'url(#heat-vertical)'},$('c-legend'));
  
  
}
goLegendTicks.forEach((s,i)=>{
  const y = 1069.6 + i*22.4;
  const t = label($('c-legend'),797.7,y,s,12,'start','#222',.89);
  
  
  const k = mk('path',{d:'M772.5 '+y+'h4M791.5 '+y+'h-4',stroke:'#fff','stroke-opacity':.7},$('c-legend'));
  
  
});

/* ---------- Panel D ---------- */
const dX = v => 1241.2 + v*131.2;
const dBase = i => 760.8 + i*49.13;
const dH = d => d*39;
const ridgeCurves = [ridgeComplement,ridgeECM,ridgeProtein,ridgeNeuro,ridgeCalcium,ridgeCAMP,ridgeFocal,ridgeRibosome,ridgeNucleocyto,ridgeNER,ridgeCellCycle,ridgeFanconi,ridgeDNA,ridgeAminoacyl,ridgeHomologous];
[-1,-.5,0,.5,1,1.5,2].forEach(v=>{
  const l = mk('line',{x1:dX(v),x2:dX(v),y1:721.8,y2:1477.8,stroke:'#ececec','stroke-width':Number.isInteger(v)?1.6:1},$('d-grid'));
  
  
});
ridgeTerms.forEach((term,i)=>{
  const base = dBase(i);
  const g = mk('line',{x1:1089.9,x2:1574.9,y1:base,y2:base,stroke:'#ececec','stroke-width':1.6},$('d-grid'));
  
  
  const pts = ridgeCurves[i].map(q=>[dX(q[0]),base-dH(q[1])]);
  const outline = smooth(pts);
  const area = mk('path',{d:outline+' Z',fill:heat(ridgePadj[i]/1.12e-6)},$('d-marks'));
  
  
  const edge = mk('path',{d:outline,fill:'none',stroke:'#111','stroke-width':1.5},$('d-marks'));
  
  
  const bl = mk('line',{x1:dX(-.99),x2:dX(2.376),y1:base,y2:base,stroke:'#333','stroke-width':1.4},$('d-marks'));
  
  
  label.lh = 16.6;
  const t = label($('d-axes'),1084,base,term,15.2,'end','#222');
  label.lh = 0;
  
  
  const k = mk('line',{x1:1086,x2:1089.9,y1:base,y2:base,stroke:'#333'},$('d-axes'));
  
  
});
ridgeXTicks.forEach(v=>{
  const t = label($('d-axes'),dX(v),1488.7,fmt(v),15.5,'middle','#333');
  
  
  const k = mk('line',{x1:dX(v),x2:dX(v),y1:1477.8,y2:1481.5,stroke:'#333'},$('d-axes'));
  
  
});
{
  const r = mk('rect',{x:1593.3,y:1061,width:18.4,height:94,fill:'url(#heat-vertical)'},$('d-legend'));
  
  
}
ridgeLegendTicks.forEach((s,i)=>{
  const y = 1086.3 + i*25.25;
  const t = label($('d-legend'),1618,y,s,10.5,'start','#222');
  
  
  const k = mk('path',{d:'M1593.3 '+y+'h4M1611.7 '+y+'h-4',stroke:'#fff','stroke-opacity':.7},$('d-legend'));
  
  
});

/* ---------- Panels E and F ---------- */
function scorePath(points, X, Y){
  return points.map((q,i)=>(i?'L':'M')+X(q[0]).toFixed(1)+' '+Y(q[1]).toFixed(1)).join(' ');
}
function gseaPanel(o){
  const rankX = r => o.X(r/100);
  rankGrid.forEach(r=>{
    [[o.top,o.esBottom],[o.mTop,o.mBottom]].forEach(seg=>{
      const l = mk('line',{x1:rankX(r),x2:rankX(r),y1:seg[0],y2:seg[1],stroke:'#e9e9e9','stroke-width':2},$(o.id+'-grid'));
      
      
    });
  });
  o.curves.forEach((c,i)=>{
    const p = mk('path',{d:scorePath(c,o.X,o.Y),fill:'none',stroke:setLineColors[i],'stroke-width':1.9,'stroke-linejoin':'round'},$(o.id+'-lines'));
    
    
  });
  o.rugs.forEach((rug,row)=>{
    const rTop = o.rugTop + row*o.rugStep;
    rug.ranks.forEach(n=>{
      const l = mk('line',{x1:o.X(n).toFixed(1),x2:o.X(n).toFixed(1),y1:rTop,y2:rTop+o.rugStep,stroke:setLineColors[rug.color],'stroke-width':1.7,opacity:.75},$(o.id+'-rug'));
      
      
    });
  });
  let d = 'M'+o.X(metricRanks[0]).toFixed(1)+' '+o.M(0);
  metricRanks.forEach((n,i)=>{ d += ' L'+o.X(n).toFixed(1)+' '+o.M(metricValues[i]).toFixed(1); });
  d += ' L'+o.X(metricRanks[metricRanks.length-1]).toFixed(1)+' '+o.M(0)+' Z';
  const area = mk('path',{d:d,fill:'#bcbcbc'},$(o.id+'-metric'));
  
  

  const axes = $(o.id+'-axes');
  [[o.top,o.esBottom],[o.rugTop-.5,o.rugTop+o.rugStep*10+.5],[o.mTop,o.mBottom]].forEach(seg=>{
    const l = mk('line',{x1:o.axisX,x2:o.axisX,y1:seg[0],y2:seg[1],stroke:'#111','stroke-width':2},axes);
    
    
  });
  const bottom = mk('line',{x1:o.axisX,x2:o.rightX,y1:o.mBottom,y2:o.mBottom,stroke:'#111','stroke-width':2},axes);
  
  
  o.esTicks.forEach(v=>{
    const t = label(axes,o.axisX-7,o.Y(v),fmt(v.toFixed(1)),13.5,'end','#4d4d4d');
    
    
    const k = mk('line',{x1:o.axisX-4,x2:o.axisX,y1:o.Y(v),y2:o.Y(v),stroke:'#333'},axes);
    
    
  });
  metricTicks.forEach(v=>{
    const t = label(axes,o.axisX-7,o.M(v),fmt(v),13.5,'end','#4d4d4d');
    
    
    const k = mk('line',{x1:o.axisX-4,x2:o.axisX,y1:o.M(v),y2:o.M(v),stroke:'#333'},axes);
    
    
  });
  rankTicks.forEach(r=>{
    const t = label(axes,rankX(r),o.mBottom+13,r,13.2,'middle','#4d4d4d');
    
    
    const k = mk('line',{x1:rankX(r),x2:rankX(r),y1:o.mBottom,y2:o.mBottom+4,stroke:'#333'},axes);
    
    
  });

  const tb = $(o.id+'-table');
  const T = o.table;
  const head1 = mk('rect',{x:T.c1,y:T.head,width:T.c1w,height:T.headH,fill:'#d9d9d9'},tb);
  
  
  const head2 = mk('rect',{x:T.c2,y:T.head,width:T.c2w,height:T.headH,fill:'#d9d9d9'},tb);
  
  
  const h1 = label(tb,T.c1+T.c1w/2,T.head+T.headH/2,'pvalue',10.2,'middle','#111');
  h1.setAttribute('font-weight','bold');
  
  
  const h2 = label(tb,T.c2+T.c2w/2,T.head+T.headH/2,'p.adjust',10.2,'middle','#111');
  h2.setAttribute('font-weight','bold');
  
  
  o.sets.forEach((s,i)=>{
    const y = T.row0 + i*T.step;
    const fill = i%2===0 ? '#f0f0f0' : '#e2e2e2';
    const a = mk('rect',{x:T.c1,y:y-T.rowH/2,width:T.c1w,height:T.rowH,fill:fill},tb);
    
    
    const b = mk('rect',{x:T.c2,y:y-T.rowH/2,width:T.c2w,height:T.rowH,fill:fill},tb);
    
    
    const n = label(tb,T.labelX,y,s,10.1,'end',setLabelColors[i]);
    
    
    const p = label(tb,T.c1+T.c1w/2,y,o.pv[i],10.1,'middle','#222');
    
    
    const q = label(tb,T.c2+T.c2w/2,y,o.pa[i],10.1,'middle','#222');
    
    
  });
}
gseaPanel({
  id:'e', sets:upSets, pv:upPvalue, pa:upPadjust,
  X:n=>129.75+n*2.597, Y:v=>1929.7-v*420, M:v=>2191-v*34.6,
  axisX:129.3, rightX:777.2, top:1646.7, esBottom:1959, mTop:2071.7, mBottom:2280,
  rugTop:1963.3, rugStep:10.43, esTicks:upEsTicks,
  curves:[upArr,upCalcium,upComplement,upDilated,upECM,upHyper,upInsulin,upNeuro,upProtein,upSalivary],
  rugs:[{ranks:rugUpCalcium,color:1},{ranks:rugUpInsulin,color:6},{ranks:rugUpArr,color:0},{ranks:rugUpHyper,color:5},{ranks:rugUpNeuro,color:7},{ranks:rugUpDilated,color:3},{ranks:rugUpSalivary,color:9},{ranks:rugUpProtein,color:8},{ranks:rugUpECM,color:4},{ranks:rugUpComplement,color:2}],
  table:{c1:666.7,c1w:39.3,c2:707,c2w:46.3,head:1615,headH:15,row0:1639.3,step:16.6,rowH:15,labelX:655}
});
gseaPanel({
  id:'f', sets:downSets, pv:downPvalue, pa:downPadjust,
  X:n=>929+n*2.597, Y:v=>1688-v*368, M:v=>2194.3-v*35,
  axisX:929, rightX:1576.5, top:1642.3, esBottom:1959, mTop:2072.7, mBottom:2284,
  rugTop:1963, rugStep:10.6, esTicks:downEsTicks,
  curves:[downAminoacyl,downCellCycle,downDNA,downFanconi,downHomologous,downMismatch,downNucleocyto,downNER,downRibosome,downTerpenoid],
  rugs:[{ranks:rugDownHomologous,color:4},{ranks:rugDownAminoacyl,color:0},{ranks:rugDownDNA,color:2},{ranks:rugDownFanconi,color:3},{ranks:rugDownCellCycle,color:1},{ranks:rugDownNER,color:7},{ranks:rugDownNucleocyto,color:6},{ranks:rugDownMismatch,color:5},{ranks:rugDownRibosome,color:8},{ranks:rugDownTerpenoid,color:9}],
  table:{c1:1438.3,c1w:40,c2:1479.7,c2w:46.3,head:1634.3,headH:16,row0:1659.7,step:16.8,rowH:15.4,labelX:1429.3}
});
</script>
</body>
</html>
